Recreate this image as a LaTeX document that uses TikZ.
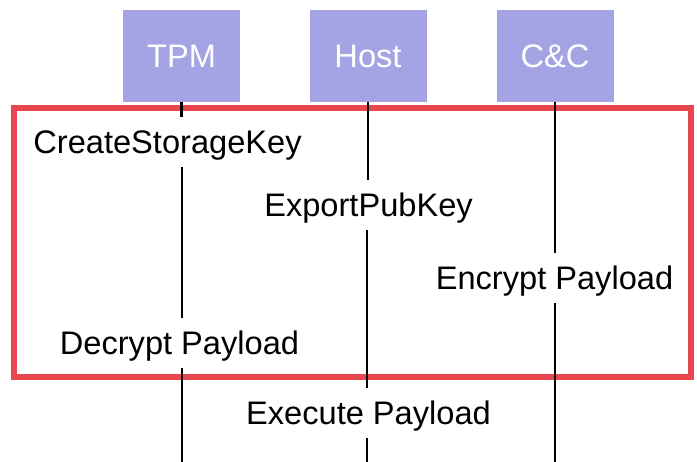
\documentclass[tikz,border=0pt]{standalone}
\usepackage{fontspec}
\setmainfont{Liberation Sans}
\usetikzlibrary{positioning}
\definecolor{lfblue}{HTML}{A4A4E4}
\definecolor{lfred}{HTML}{E8474E}

\begin{document}
\begin{tikzpicture}[x=0.5bp, y=-0.5bp,
      font=\fontsize{16.3bp}{19bp}\selectfont,
      actor/.style={fill=lfblue, minimum width=58.5bp, minimum height=46bp,
                    text=white, inner sep=0pt},
      msg/.style={anchor=base, text height=11.7bp, text depth=0pt,
                  inner xsep=2bp, inner ysep=6.5bp},
      life/.style={draw=black, line width=1.1bp},
      redbox/.style={draw=lfred, line width=3bp}
    ]
    \useasboundingbox (0,0) rectangle (697,462);
    % actors
    \node[actor] (tpm)  at (181.5,56) {TPM};
    \node[actor] (host) at (368,56)   {Host};
    \node[actor] (cc)   at (555,56)   {C\&C};

    % steps
    \node[msg] (csk) at (167.5,154) {CreateStorageKey};
    \node[msg] (epk) at (368.5,217) {ExportPubKey};
    \node[msg] (enc) at (554.5,290) {Encrypt Payload};
    \node[msg] (dec) at (179.5,355) {Decrypt Payload};
    \node[msg] (exe) at (368.5,425) {Execute Payload};

    \coordinate (tpmend)  at (182,462);
    \coordinate (hostend) at (367,462);
    \coordinate (ccend)   at (555,462);

    % setup phase
    \draw[redbox] (14,108) rectangle (691,377);

    % lifelines
    \draw[life] (tpm.south) -- (tpm.south |- csk.north);
    \draw[life] (tpmend |- csk.south) -- (tpmend |- dec.north);
    \draw[life] (tpmend |- dec.south) -- (tpmend);
    \draw[life] (host.south) -- (host.south |- epk.north);
    \draw[life] (hostend |- epk.south) -- (hostend |- exe.north);
    \draw[life] (hostend |- exe.south) -- (hostend);
    \draw[life] (cc.south) -- (cc.south |- enc.north);
    \draw[life] (ccend |- enc.south) -- (ccend);
  \end{tikzpicture}
\end{document}
